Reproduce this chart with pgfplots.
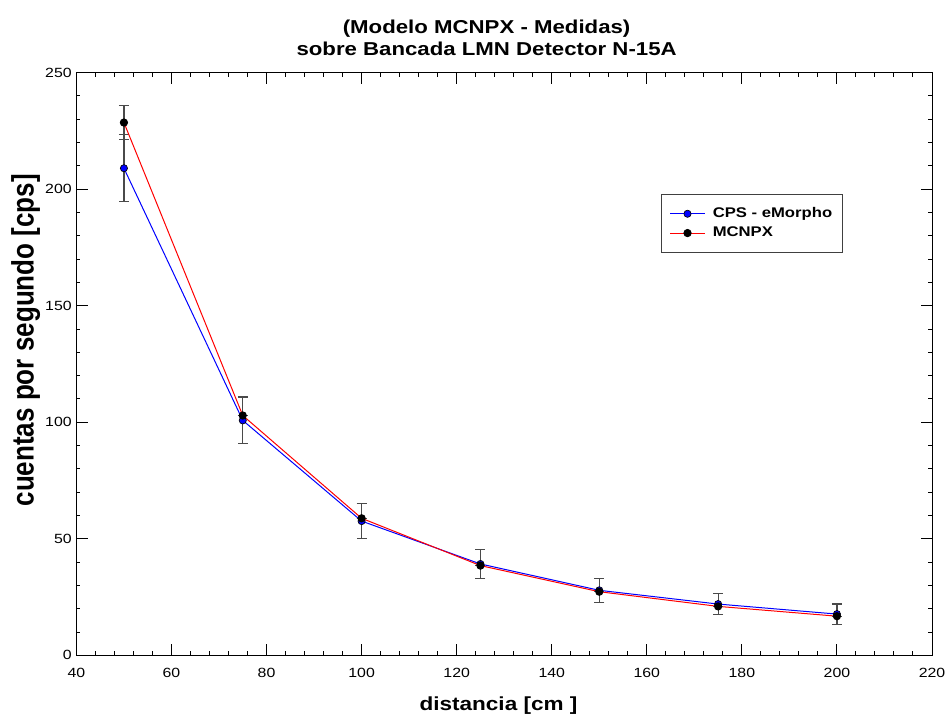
\documentclass[border=0pt]{standalone}
\usepackage{fontspec}
\setmainfont{Liberation Sans}[FakeStretch=1.19]
\newfontfamily\ylfont{Liberation Sans}
\usepackage{graphicx}
\usepackage{pgfplots}
\pgfplotsset{compat=1.18}
\usepackage{pgfplotstable}
\definecolor{errgray}{HTML}{4A4A4A}
\pgfplotstableread{
x y e
50 209 14.3
75 100.8 10
100 57.6 7.5
125 39.2 6.3
150 27.9 5.2
175 22 4.5
200 17.7 4.3
}\cps
\pgfplotstableread{
x y e
50 228.6 7.2
75 102.9 0
100 58.8 0
125 38.5 0
150 27.3 0
175 21 0
200 16.8 0
}\mcnpx
\begin{document}
\begin{tikzpicture}
\begin{axis}[
  width=641.7pt, height=437pt, scale only axis,
  xmin=40, xmax=220, ymin=0, ymax=250,
  xtick distance=20, ytick distance=50,
  minor x tick num=4, minor y tick num=4,
  tick align=inside,
  major tick length=8.5pt, minor tick length=3pt,
  axis line style={line width=0.75pt},
  every tick/.style={black, line width=0.75pt},
  tick label style={font=\fontsize{10}{12}\selectfont},
  xticklabel style={yshift=-6pt},
  /pgf/number format/assume math mode=true,
  clip=false,
  legend style={at={(axis cs:163,198)}, anchor=north west,
    draw=black!75, line width=0.75pt,
    font=\bfseries\fontsize{10.5}{13}\selectfont,
    inner xsep=6pt, inner ysep=8pt, row sep=1.5pt,
    /tikz/every odd column/.append style={column sep=3.5pt}},
  legend cell align=left,
  legend image code/.code={\draw[mark repeat=2,mark phase=2] plot coordinates {(0cm,0cm)(0.46cm,0cm)(0.92cm,0cm)};},
]
\addplot[blue, line width=0.75pt, mark=*, mark size=2.7pt,
  mark options={fill=blue, draw=black, line width=0.5pt},
  error bars/.cd, y dir=both, y explicit,
  error bar style={errgray, line width=0.9pt},
  error mark options={rotate=90, mark size=3.75pt, errgray, line width=0.9pt}]
  table[x=x, y=y, y error=e]{\cps};
\addlegendentry{CPS - eMorpho}
\addplot[red, line width=0.75pt, mark=*, mark size=2.7pt,
  mark options={fill=black, draw=black},
  error bars/.cd, y dir=both, y explicit,
  error bar style={errgray, line width=0.9pt},
  error mark options={rotate=90, mark size=3.75pt, errgray, line width=0.9pt}]
  table[x=x, y=y, y error=e]{\mcnpx};
\addlegendentry{MCNPX}
\node[anchor=base, font=\bfseries\fontsize{14}{16}\selectfont] at (axis cs:126.3,266.6) {(Modelo MCNPX - Medidas)};
\node[anchor=base, font=\bfseries\fontsize{14}{16}\selectfont] at (axis cs:126.3,257.2) {sobre Bancada LMN Detector N-15A};
\node[anchor=base, font=\bfseries\fontsize{14.2}{16}\selectfont] at (axis cs:128.8,-23.6) {distancia [cm ]};
\node[anchor=base, rotate=90, font=\ylfont\bfseries\fontsize{19.5}{22}\selectfont] at (axis cs:31,135.2) {\scalebox{1}[1.19]{cuentas por segundo [cps]}};
\end{axis}
\pgfresetboundingbox
\path ([xshift=-57.3pt,yshift=-46.3pt]current axis.south west) rectangle ([xshift=9.75pt,yshift=54.5pt]current axis.north east);
\end{tikzpicture}
\end{document}
